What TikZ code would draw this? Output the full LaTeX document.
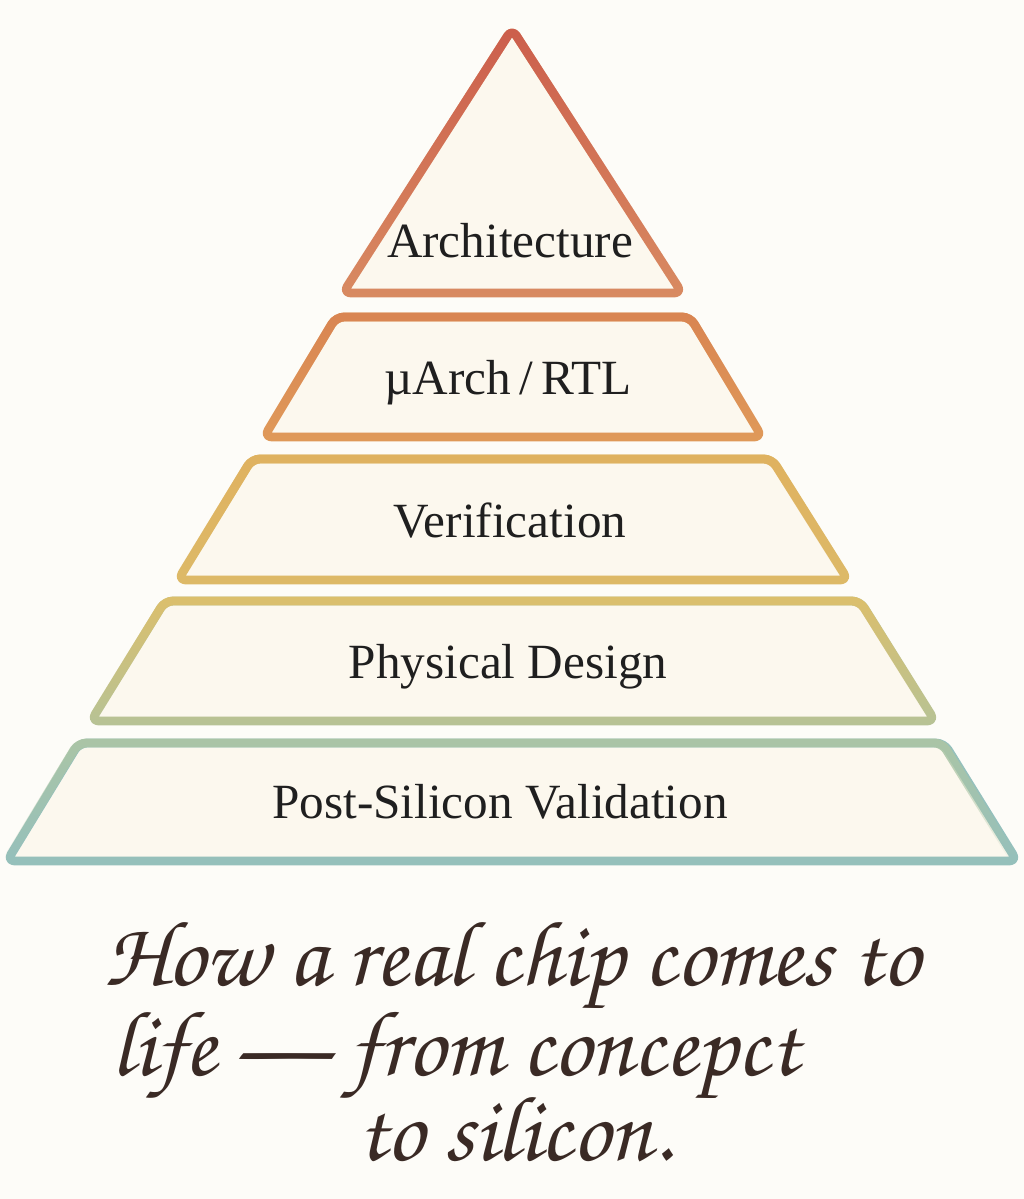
\documentclass[tikz,border=0pt]{standalone}
\usepackage[T1]{fontenc}
\usepackage{fontspec}
\setmainfont{Liberation Serif}
\usetikzlibrary{fadings}
\definecolor{paper}{HTML}{FDFCF8}
\definecolor{cream}{HTML}{FCF8EE}
\definecolor{ink}{HTML}{3A2A25}
\definecolor{archtop}{HTML}{CC5E4C}
\definecolor{archbot}{HTML}{D98B62}
\definecolor{rtltop}{HTML}{D98552}
\definecolor{rtlbot}{HTML}{E09A5A}
\definecolor{vertop}{HTML}{E0B260}
\definecolor{verbot}{HTML}{DDBA68}
\definecolor{physttop}{HTML}{DCBF6C}
\definecolor{physbot}{HTML}{B7C396}
\definecolor{posttop}{HTML}{ABC5A6}
\definecolor{postbot}{HTML}{95C0BC}
\newcommand{\handfont}{\fontencoding{T1}\fontfamily{pzc}\fontseries{mb}\fontshape{it}\fontsize{66}{72}\selectfont}

\begin{document}
\begin{tikzpicture}[x=0.025cm, y=-0.025cm,
  layer/.style 2 args = {line width=0.22cm, rounded corners=0.2cm, line join=round, fill=cream,
    draw=#2, postaction={draw=#1, path fading=south}},
  label/.style = {anchor=base, font=\fontsize{35}{40}\selectfont, text=black!88},
  hand/.style = {anchor=base, text=ink, font=\handfont}]

\fill[paper] (0,0) rectangle (1024,1199);
\useasboundingbox (0,0) rectangle (1024,1199);

\draw[layer={archtop}{archbot}] (512,29) -- (682,293) -- (343,293) -- cycle;
\draw[layer={rtltop}{rtlbot}] (336,317) -- (690,317) -- (762,437) -- (264,437) -- cycle;
\draw[layer={vertop}{verbot}] (252,459) -- (772,459) -- (848,580) -- (178,580) -- cycle;
\draw[layer={physttop}{physbot}] (165,601) -- (860,601) -- (935,721) -- (91,721) -- cycle;
\draw[layer={posttop}{postbot}] (79,743) -- (944,743) -- (1017,861) -- (7,861) -- cycle;

\node[label] (arch) at (510,257) {Architecture};
\node[label] (rtl) at (508,394) {µArch\,/\,RTL};
\node[label] (ver) at (510,537) {Verification};
\node[label] (phys) at (508,678) {Physical Design};
\node[label] (post) at (500,818) {Post-Silicon Validation};

\node[hand] (line1) at (512,985) {How a real chip comes to};
\node[hand] (line2) at (455,1075) {life --- from concepct};
\node[hand] (line3) at (515,1160) {to silicon.};

\end{tikzpicture}
\end{document}
